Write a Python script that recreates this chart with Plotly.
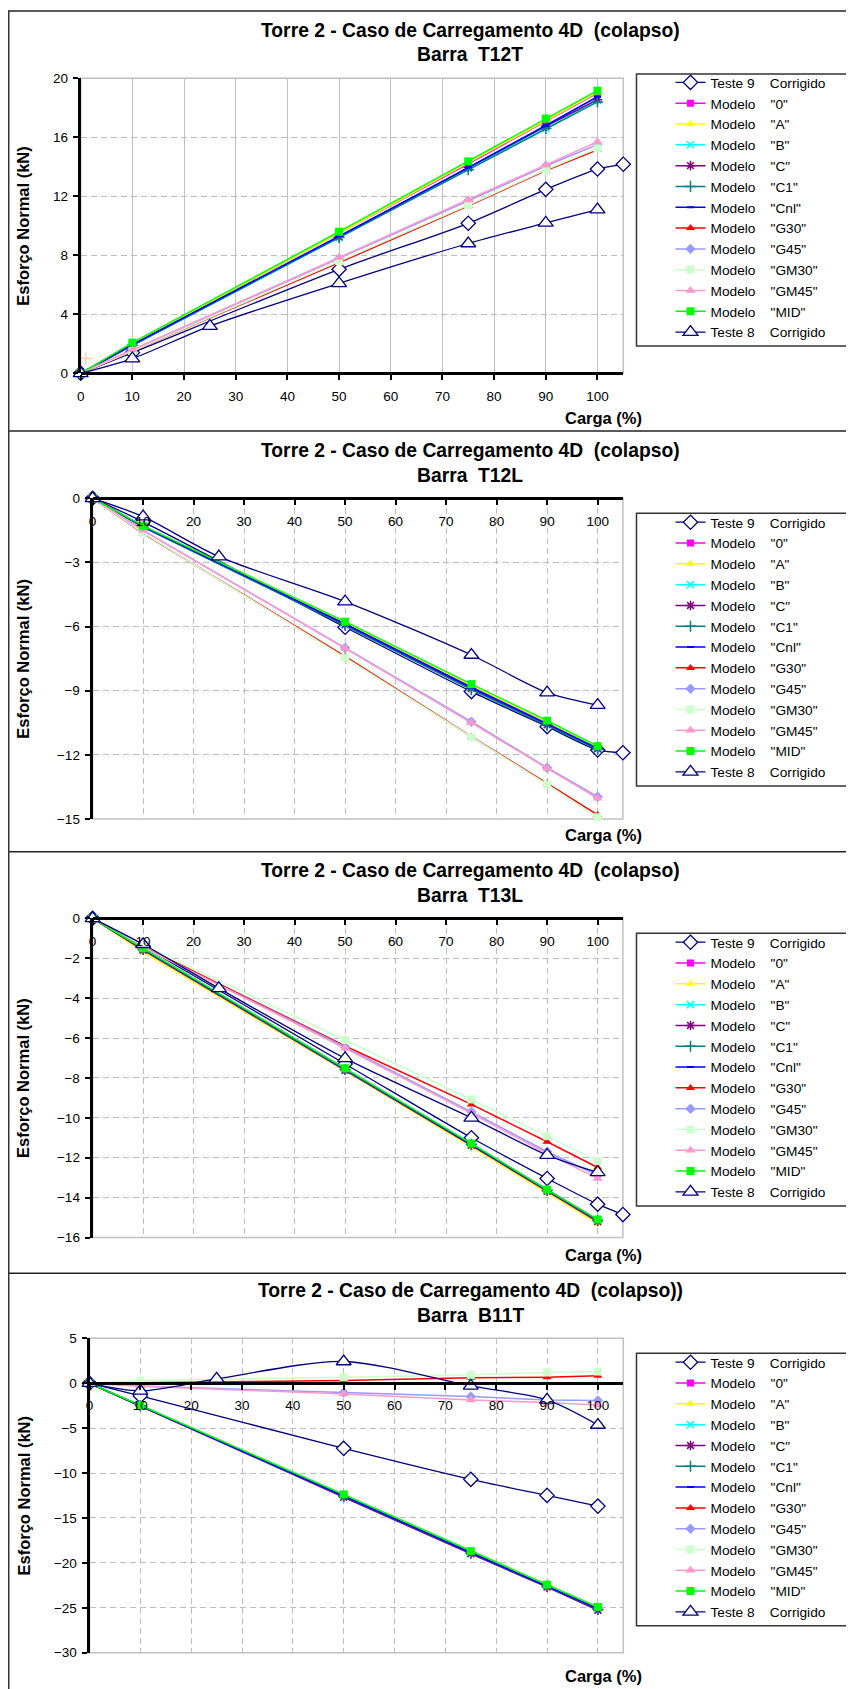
import plotly.graph_objects as go

# page is 854x1689; the html body adds an 8px margin, so the figure is drawn 8px in
PAGE_OFF = 8
W, H = 846, 1681

# ---------------- data ----------------
x_model = [0, 10, 50, 75, 90, 100]
x_t9 = [0, 10, 50, 75, 90, 100, 105]
x_t9_b11t = [0, 10, 50, 75, 90, 100]
x_t8 = [0, 10, 25, 50, 75, 90, 100]

series_names = [
    'Teste 9\u00a0\u00a0\u00a0\u00a0Corrigido',
    'Modelo\u00a0\u00a0\u00a0\u00a0"0"',
    'Modelo\u00a0\u00a0\u00a0\u00a0"A"',
    'Modelo\u00a0\u00a0\u00a0\u00a0"B"',
    'Modelo\u00a0\u00a0\u00a0\u00a0"C"',
    'Modelo\u00a0\u00a0\u00a0\u00a0"C1"',
    'Modelo\u00a0\u00a0\u00a0\u00a0"Cnl"',
    'Modelo\u00a0\u00a0\u00a0\u00a0"G30"',
    'Modelo\u00a0\u00a0\u00a0\u00a0"G45"',
    'Modelo\u00a0\u00a0\u00a0\u00a0"GM30"',
    'Modelo\u00a0\u00a0\u00a0\u00a0"GM45"',
    'Modelo\u00a0\u00a0\u00a0\u00a0"MID"',
    'Teste 8\u00a0\u00a0\u00a0\u00a0Corrigido',
]

# Panel 1 - Barra T12T
t12t_t9 = [0, 1.4, 7.05, 10.17, 12.47, 13.85, 14.17]
t12t_0 = [0, 2.0, 9.5, 14.2, 17.1, 19.0]
t12t_A = [0, 2.0, 9.5, 14.25, 17.15, 19.05]
t12t_B = [0, 1.9, 9.2, 13.9, 16.6, 18.5]
t12t_C = [0, 1.9, 9.25, 13.95, 16.75, 18.55]
t12t_C1 = [0, 1.9, 9.2, 13.8, 16.6, 18.4]
t12t_Cnl = [0, 1.95, 9.3, 13.95, 16.8, 18.75]
t12t_G30 = [0, 1.5, 7.5, 11.35, 13.75, 15.15]
t12t_G45 = [0, 1.55, 7.8, 11.7, 14.05, 15.5]
t12t_GM30 = [0, 1.5, 7.6, 11.4, 13.8, 15.25]
t12t_GM45 = [0, 1.6, 7.85, 11.75, 14.1, 15.7]
t12t_MID = [0, 2.08, 9.6, 14.37, 17.27, 19.16]
t12t_t8 = [0, 1.0, 3.2, 6.1, 8.8, 10.2, 11.1]
t12t_stray_x = [1]
t12t_stray_y = [1]

# Panel 2 - Barra T12L
t12l_t9 = [0, -1.1, -6.03, -9.04, -10.68, -11.77, -11.9]
t12l_0 = [0, -1.3, -5.85, -8.8, -10.5, -11.65]
t12l_A = [0, -1.3, -5.8, -8.75, -10.45, -11.62]
t12l_B = [0, -1.32, -5.9, -8.85, -10.55, -11.7]
t12l_C = [0, -1.33, -5.92, -8.9, -10.6, -11.72]
t12l_C1 = [0, -1.35, -5.95, -8.95, -10.62, -11.75]
t12l_Cnl = [0, -1.32, -5.88, -8.85, -10.55, -11.7]
t12l_G30 = [0, -1.64, -7.4, -11.15, -13.33, -14.81]
t12l_G45 = [0, -1.5, -7.0, -10.45, -12.6, -13.96]
t12l_GM30 = [0, -1.62, -7.45, -11.18, -13.38, -14.92]
t12l_GM45 = [0, -1.5, -7.02, -10.5, -12.63, -14.03]
t12l_MID = [0, -1.29, -5.77, -8.69, -10.4, -11.59]
t12l_t8 = [0, -0.86, -2.73, -4.83, -7.33, -9.09, -9.67]

# Panel 3 - Barra T13L
t13l_t9 = [0, -1.4, -7.3, -11.0, -13.04, -14.33, -14.85]
t13l_0 = [0, -1.55, -7.6, -11.35, -13.65, -15.15]
t13l_A = [0, -1.7, -7.65, -11.45, -13.75, -15.3]
t13l_B = [0, -1.55, -7.55, -11.3, -13.62, -15.12]
t13l_C = [0, -1.6, -7.62, -11.38, -13.68, -15.2]
t13l_C1 = [0, -1.55, -7.58, -11.33, -13.63, -15.13]
t13l_Cnl = [0, -1.52, -7.55, -11.32, -13.62, -15.12]
t13l_G30 = [0, -1.4, -6.4, -9.33, -11.2, -12.49]
t13l_G45 = [0, -1.45, -6.45, -9.7, -11.7, -12.88]
t13l_GM30 = [0, -1.35, -6.1, -9.08, -10.92, -12.16]
t13l_GM45 = [0, -1.45, -6.52, -9.78, -11.79, -13.04]
t13l_MID = [0, -1.5, -7.52, -11.29, -13.6, -15.1]
t13l_t8 = [0, -1.3, -3.51, -7.02, -10.0, -11.87, -12.74]

# Panel 4 - Barra B11T
b11t_t9 = [0, -1.41, -7.25, -10.7, -12.49, -13.68]
b11t_0 = [0, -2.5, -12.5, -18.85, -22.55, -25.1]
b11t_A = [0, -2.6, -12.45, -18.8, -22.5, -25.0]
b11t_B = [0, -2.5, -12.55, -18.9, -22.6, -25.15]
b11t_C = [0, -2.55, -12.7, -19.0, -22.7, -25.28]
b11t_C1 = [0, -2.5, -12.6, -18.9, -22.6, -25.15]
b11t_Cnl = [0, -2.5, -12.55, -18.85, -22.55, -25.1]
b11t_G30 = [0, 0.05, 0.3, 0.6, 0.67, 0.82]
b11t_G45 = [0, -0.3, -1.04, -1.49, -1.86, -1.93]
b11t_GM30 = [0, 0.3, 0.67, 0.93, 1.19, 1.3]
b11t_GM45 = [0, -0.35, -1.19, -1.86, -2.16, -2.42]
b11t_MID = [0, -2.45, -12.38, -18.7, -22.42, -24.9]
b11t_t8 = [0, -0.86, 0.48, 2.42, -0.3, -1.86, -4.65]

titles_line1 = ['Torre 2 - Caso de Carregamento 4D  (colapso)'] * 3 + \
               ['Torre 2 - Caso de Carregamento 4D  (colapso))']
titles_line2 = ['Barra  T12T', 'Barra  T12L', 'Barra  T13L', 'Barra  B11T']
y_ranges = [[0, 20], [-15, 0], [-16, 0], [-30, 5]]
y_dticks = [4, 3, 2, 5]
x_tickvals = [0, 10, 20, 30, 40, 50, 60, 70, 80, 90, 100]

panels = [
    [t12t_t9, t12t_0, t12t_A, t12t_B, t12t_C, t12t_C1, t12t_Cnl, t12t_G30, t12t_G45, t12t_GM30, t12t_GM45, t12t_MID, t12t_t8],
    [t12l_t9, t12l_0, t12l_A, t12l_B, t12l_C, t12l_C1, t12l_Cnl, t12l_G30, t12l_G45, t12l_GM30, t12l_GM45, t12l_MID, t12l_t8],
    [t13l_t9, t13l_0, t13l_A, t13l_B, t13l_C, t13l_C1, t13l_Cnl, t13l_G30, t13l_G45, t13l_GM30, t13l_GM45, t13l_MID, t13l_t8],
    [b11t_t9, b11t_0, b11t_A, b11t_B, b11t_C, b11t_C1, b11t_Cnl, b11t_G30, b11t_G45, b11t_GM30, b11t_GM45, b11t_MID, b11t_t8],
]
t9_x_per_panel = [x_t9, x_t9, x_t9, x_t9_b11t]

# ---------------- styles ----------------
NAVY = '#000080'
styles = [
    dict(color=NAVY, symbol='diamond', size=11, fill='white', lw=1.3, mlw=1.3),
    dict(color='#ff00ff', symbol='square', size=7, fill='#ff00ff', lw=1.5, mlw=0),
    dict(color='#ffff00', symbol='triangle-up', size=8, fill='#ffff00', lw=1.5, mlw=0),
    dict(color='#00ffff', symbol='x-thin', size=7, fill='#00ffff', lw=1.5, mlw=1.5),
    dict(color='#800080', symbol='asterisk', size=8, fill='#800080', lw=1.5, mlw=1.5),
    dict(color='#008080', symbol='cross-thin', size=8, fill='#008080', lw=1.5, mlw=1.5),
    dict(color='#0000ff', symbol='line-ew', size=5, fill='#0000ff', lw=1.5, mlw=2),
    dict(color='#ff0000', symbol='triangle-up', size=8, fill='#ff0000', lw=1.5, mlw=0),
    dict(color='#9999ff', symbol='diamond', size=8, fill='#9999ff', lw=1.5, mlw=0),
    dict(color='#ccffcc', symbol='square', size=8, fill='#ccffcc', lw=1.5, mlw=0),
    dict(color='#ff99cc', symbol='triangle-up', size=9, fill='#ff99cc', lw=1.5, mlw=0),
    dict(color='#00ff00', symbol='square', size=8, fill='#00ff00', lw=1.5, mlw=0),
    dict(color=NAVY, symbol='triangle-up', size=13, fill='white', lw=1.3, mlw=1.3),
]

FONT = 'Liberation Sans, Arial, sans-serif'

# geometry in page pixels (x0, x1, ytop, ybottom)
plot_px = [
    (80.7, 623.3, 78.3, 373.3),
    (92.6, 622.9, 498.3, 819.0),
    (92.6, 622.9, 918.3, 1237.5),
    (89.5, 623.3, 1338.3, 1652.7),
]
legend_first = [83.5, 523.3, 943.3, 1363.3]
legend_box_top = [74.0, 513.3, 933.3, 1353.3]
legend_box_bottom = [346.0, 786.0, 1206.0, 1625.7]
title1_y = [30.7, 450.7, 870.7, 1290.0]
title2_y = [55.0, 475.0, 895.0, 1315.0]
carga_y = [418.3, 835.0, 1255.0, 1676.0]
sep_y = [11, 431, 851.7, 1273.3]


def px_x(v):
    return (v - PAGE_OFF) / W


def px_y(v):
    return 1 - (v - PAGE_OFF) / H


fig = go.Figure()
layout = dict(
    width=W, height=H, margin=dict(l=0, r=0, t=0, b=0, autoexpand=False),
    paper_bgcolor='white', plot_bgcolor='white', showlegend=True,
    font=dict(family=FONT, color='black'),
)
annotations = []
shapes = []

for p in range(4):
    sfx = '' if p == 0 else str(p + 1)
    xa, ya = 'x' + sfx, 'y' + sfx
    lg = 'legend' + sfx
    x0, x1, yt, yb = plot_px[p]
    ydom = [px_y(yb), px_y(yt)]
    ymin, ymax = y_ranges[p]
    zero_pos = ydom[0] + (0 - ymin) / (ymax - ymin) * (ydom[1] - ydom[0])

    data = panels[p]
    for i, ys in enumerate(data):
        st = styles[i]
        if i == 0:
            xs = t9_x_per_panel[p]
        elif i == 12:
            xs = x_t8
        else:
            xs = x_model
        is_test = i in (0, 12)
        fig.add_trace(go.Scatter(
            x=xs, y=ys, mode='lines+markers', name=series_names[i],
            xaxis=xa, yaxis=ya, legend=lg,
            line=dict(color=st['color'], width=st['lw'],
                      shape='spline' if is_test else 'linear', smoothing=0.8),
            marker=dict(symbol=st['symbol'], size=st['size'], color=st['fill'],
                        line=dict(color=st['color'], width=st['mlw'])),
            cliponaxis=False,
        ))
    if p == 0:
        fig.add_trace(go.Scatter(
            x=t12t_stray_x, y=t12t_stray_y, mode='markers', showlegend=False,
            xaxis=xa, yaxis=ya,
            marker=dict(symbol='cross-thin', size=9, color='#ffcc99',
                        line=dict(color='#ffcc99', width=1.5)),
        ))

    grid_dash = '6px,4px'
    layout['xaxis' + sfx] = dict(
        domain=[px_x(x0), px_x(x1)], range=[0, 105], autorange=False,
        anchor='free', position=zero_pos, side='bottom',
        tickmode='array', tickvals=x_tickvals,
        showline=True, linecolor='black', linewidth=3,
        ticks='outside', ticklen=5, tickwidth=2, tickcolor='black',
        ticklabelstandoff=4,
        showgrid=True, gridcolor='#c0c0c0' if p == 0 else '#bdbdbd', gridwidth=1,
        griddash='solid' if p == 0 else grid_dash,
        zeroline=False, tickfont=dict(size=13.5, family=FONT, color='black'),
        layer='above traces', fixedrange=True,
    )
    layout['yaxis' + sfx] = dict(
        domain=ydom, range=[ymin, ymax], autorange=False, anchor=xa, side='left',
        tick0=0, dtick=y_dticks[p],
        showline=True, linecolor='black', linewidth=3,
        ticks='outside', ticklen=5, tickwidth=2, tickcolor='black',
        ticklabelstandoff=2,
        showgrid=True, gridcolor='#bdbdbd', gridwidth=1, griddash=grid_dash,
        zeroline=False, tickfont=dict(size=13.5, family=FONT, color='black'),
        layer='above traces', fixedrange=True,
    )
    layout[lg] = dict(
        x=px_x(670.5), xanchor='left', y=px_y(legend_first[p] - 16.5), yanchor='top',
        bgcolor='rgba(0,0,0,0)', borderwidth=0,
        font=dict(size=13.7, family=FONT, color='black'),
        tracegroupgap=0, itemwidth=30,
    )

    # plot area border
    shapes.append(dict(type='rect', xref=xa + ' domain', yref=ya + ' domain',
                       x0=0, x1=1, y0=0, y1=1, layer='below',
                       line=dict(color='#c0c0c0', width=1.5)))
    # legend frame (extends past the right edge, as in the reference)
    shapes.append(dict(type='rect', xref='paper', yref='paper',
                       x0=px_x(636.5), x1=px_x(880), y0=px_y(legend_box_bottom[p]),
                       y1=px_y(legend_box_top[p]),
                       line=dict(color='#333333', width=1.5), fillcolor='rgba(0,0,0,0)'))
    # panel separator line
    shapes.append(dict(type='line', xref='paper', yref='paper',
                       x0=px_x(8), x1=px_x(880), y0=px_y(sep_y[p]), y1=px_y(sep_y[p]),
                       line=dict(color='#222222', width=1.6)))

    annotations.append(dict(text='<b>' + titles_line1[p] + '</b>', xref='paper', yref='paper',
                            x=px_x(470), y=px_y(title1_y[p]), xanchor='center', yanchor='middle',
                            showarrow=False, font=dict(size=19.3, family=FONT, color='black')))
    annotations.append(dict(text='<b>' + titles_line2[p] + '</b>', xref='paper', yref='paper',
                            x=px_x(470), y=px_y(title2_y[p]), xanchor='center', yanchor='middle',
                            showarrow=False, font=dict(size=19.3, family=FONT, color='black')))
    annotations.append(dict(text='<b>Esforço Normal (kN)</b>', xref='paper', yref='paper',
                            x=px_x(23), y=px_y((yt + yb) / 2), xanchor='center', yanchor='middle',
                            textangle=-90, showarrow=False,
                            font=dict(size=16.5, family=FONT, color='black')))
    annotations.append(dict(text='<b>Carga (%)</b>', xref='paper', yref='paper',
                            x=px_x(603), y=px_y(carga_y[p]), xanchor='center', yanchor='middle',
                            showarrow=False, font=dict(size=16.5, family=FONT, color='black')))

# outer left border
shapes.append(dict(type='line', xref='paper', yref='paper',
                   x0=px_x(8.5), x1=px_x(8.5), y0=px_y(11), y1=px_y(1720),
                   line=dict(color='#333333', width=2)))

layout['annotations'] = annotations
layout['shapes'] = shapes
fig.update_layout(**layout)
fig.write_html('out.html')
